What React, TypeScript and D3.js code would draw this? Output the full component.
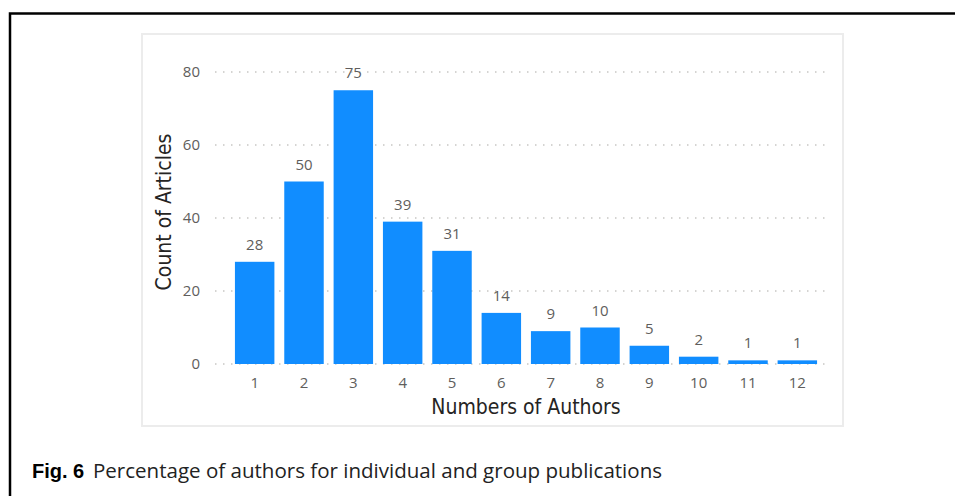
import { scaleBand, scaleLinear } from "d3";

const authors = ["1", "2", "3", "4", "5", "6", "7", "8", "9", "10", "11", "12"];
const articles = [28, 50, 75, 39, 31, 14, 9, 10, 5, 2, 1, 1];
const yTicks = [0, 20, 40, 60, 80];

const width = 955;
const height = 496;

// plot area (page coords)
const plot = { left: 230, right: 822, top: 72, bottom: 364 };

const labelFont = "'Open Sans', 'Noto Sans', sans-serif";
const titleFont = "'DejaVu Sans Condensed', 'DejaVu Sans', sans-serif";

const App = () => {
  const x = scaleBand<string>()
    .domain(authors)
    .range([plot.left, plot.right])
    .paddingInner(0.2)
    .paddingOuter(0.1);

  const y = scaleLinear().domain([0, 80]).range([plot.bottom, plot.top]);

  return (
    <svg
      width={width}
      height={height}
      style={{ position: "absolute", left: 0, top: 0, background: "#fff" }}
    >
      {/* outer figure frame, open to the right and bottom */}
      <path d={`M10,${height} V13.5 H${width}`} fill="none" stroke="#000" strokeWidth={2.5} />

      {/* visual panel */}
      <rect x={142} y={34} width={701} height={392} fill="#fff" stroke="#ececec" strokeWidth={2} />

      {/* gridlines + y ticks */}
      {yTicks.map((t) => (
        <g key={t}>
          <line
            x1={215}
            x2={830}
            y1={y(t)}
            y2={y(t)}
            stroke="#c8c6c4"
            strokeWidth={1.5}
            strokeDasharray="1.5,6.5"
          />
          <text
            x={200}
            y={y(t)}
            dy="0.35em"
            textAnchor="end"
            fontFamily={labelFont}
            fontSize={15}
            fill="#605e5c"
          >
            {t}
          </text>
        </g>
      ))}

      {/* bars */}
      {authors.map((a, i) => (
        <rect
          key={a}
          x={x(a)}
          y={y(articles[i])}
          width={x.bandwidth()}
          height={y(0) - y(articles[i])}
          fill="#118dff"
        />
      ))}

      {/* data labels */}
      {authors.map((a, i) => (
        <text
          key={a}
          x={(x(a) ?? 0) + x.bandwidth() / 2}
          y={y(articles[i]) - 12}
          textAnchor="middle"
          fontFamily={labelFont}
          fontSize={15}
          fill="#605e5c"
        >
          {articles[i]}
        </text>
      ))}

      {/* x tick labels */}
      {authors.map((a) => (
        <text
          key={a}
          x={(x(a) ?? 0) + x.bandwidth() / 2}
          y={388}
          textAnchor="middle"
          fontFamily={labelFont}
          fontSize={15}
          fill="#605e5c"
        >
          {a}
        </text>
      ))}

      {/* axis titles */}
      <text
        x={(plot.left + plot.right) / 2}
        y={414}
        textAnchor="middle"
        fontFamily={titleFont}
        fontSize={21}
        fill="#252423"
      >
        Numbers of Authors
      </text>
      <text
        transform={`translate(171,${(plot.top + plot.bottom) / 2 - 6}) rotate(-90)`}
        textAnchor="middle"
        fontFamily={titleFont}
        fontSize={21}
        fill="#252423"
      >
        Count of Articles
      </text>

      {/* caption */}
      <text x={32} y={478} fill="#000">
        <tspan fontFamily="'Liberation Sans', Arial, sans-serif" fontWeight="bold" fontSize={20}>
          Fig. 6
        </tspan>
      </text>
      <text
        x={93}
        y={478}
        fontFamily="'Open Sans', sans-serif"
        fontSize={20}
        fill="#222"
        textLength={569}
        lengthAdjust="spacingAndGlyphs"
      >
        Percentage of authors for individual and group publications
      </text>
    </svg>
  );
};

export default App;
